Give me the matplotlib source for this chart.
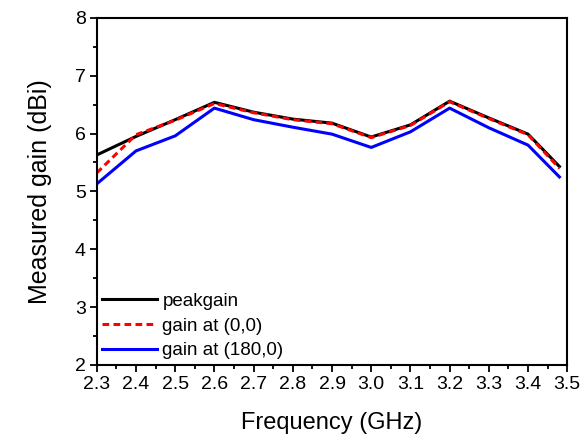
import numpy as np
import matplotlib
matplotlib.use('Agg')
import matplotlib.pyplot as plt
from matplotlib.ticker import MultipleLocator

plt.rcParams['font.family'] = ['Liberation Sans', 'DejaVu Sans']

freq = [2.3, 2.4, 2.5, 2.6, 2.7, 2.8, 2.9, 3.0, 3.1, 3.2, 3.3, 3.4, 3.48]
peakgain = [5.63, 5.95, 6.24, 6.54, 6.37, 6.25, 6.18, 5.94, 6.15, 6.56, 6.27, 5.99, 5.43]
gain_00 = [5.32, 5.98, 6.23, 6.52, 6.36, 6.24, 6.17, 5.93, 6.14, 6.55, 6.26, 5.98, 5.40]
gain_1800 = [5.13, 5.70, 5.96, 6.44, 6.24, 6.11, 5.99, 5.76, 6.03, 6.44, 6.10, 5.80, 5.25]

fig = plt.figure(figsize=(5.83, 4.36), dpi=100)
ax = fig.add_axes([0.166, 0.163, 0.807, 0.796])

ax.plot(freq, peakgain, color='k', lw=2.2, label='peakgain')
ax.plot(freq, gain_00, color='r', lw=2.2, ls=(0, (2.2, 1.4)), label='gain at (0,0)')
ax.plot(freq, gain_1800, color='b', lw=2.2, label='gain at (180,0)')

ax.set_xlim(2.3, 3.5)
ax.set_ylim(2, 8)
ax.xaxis.set_major_locator(MultipleLocator(0.1))
ax.xaxis.set_minor_locator(MultipleLocator(0.05))
ax.yaxis.set_major_locator(MultipleLocator(1))
ax.yaxis.set_minor_locator(MultipleLocator(0.5))
ax.xaxis.set_major_formatter(matplotlib.ticker.FormatStrFormatter('%.1f'))

for s in ax.spines.values():
    s.set_linewidth(1.5)
ax.tick_params(which='both', direction='out', width=1.3, top=False, right=False)
ax.tick_params(which='major', length=5, labelsize=14, pad=3)
ax.tick_params(which='minor', length=3)

ax.set_xlabel('Frequency (GHz)', fontsize=17, labelpad=14)
ax.set_ylabel('Measured gain (dBi)', fontsize=18, labelpad=16)

ax.legend(loc='lower left', frameon=False, fontsize=13.5, handlelength=2.9,
          handletextpad=0.3, labelspacing=0.4, borderaxespad=0.0,
          borderpad=0.3, bbox_to_anchor=(0.0, 0.0))

fig.savefig('out.png', dpi=100)
